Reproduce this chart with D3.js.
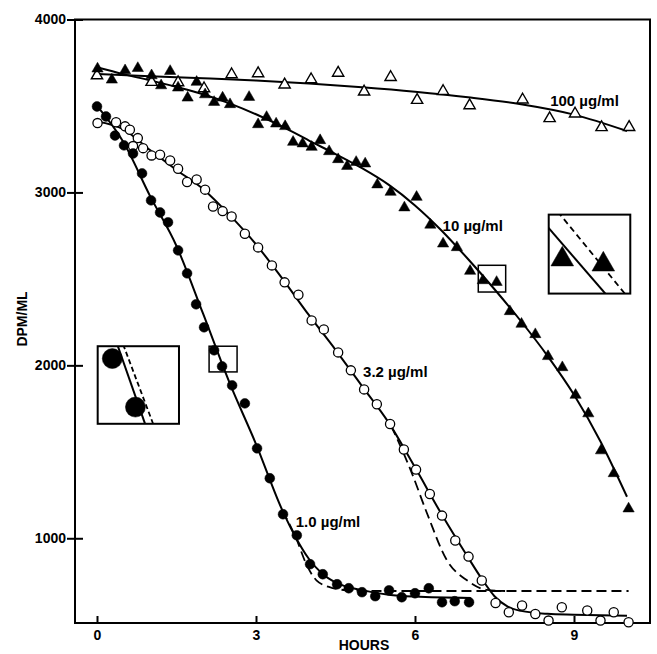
<!DOCTYPE html>
<html>
<head>
<meta charset="utf-8">
<script src="https://cdn.jsdelivr.net/npm/d3@7"></script>
<style>
  body { margin: 0; background: #fff; }
  text { font-family: "Liberation Sans", Arial, Helvetica, sans-serif; font-weight: bold; fill: #000; }
</style>
</head>
<body>
<svg width="657" height="654"></svg>
<script>
// measured points, [hours, DPM/ML]
const pts100 = [[0,3676],[1.03,3638],[1.53,3636],[2.02,3601],[2.54,3682],[3.04,3688],[3.54,3623],[4.04,3653],
  [4.55,3691],[5.04,3582],[5.54,3666],[6.04,3534],[6.53,3585],[7.03,3503],[8.03,3536],[8.54,3428],[9.02,3455],
  [9.52,3376],[10.04,3377]];

const pts10 = [[0.01,3715],[0.28,3651],[0.53,3705],[0.77,3718],[1.03,3676],[1.21,3618],[1.38,3701],[1.53,3605],
  [1.71,3547],[1.88,3638],[2.04,3566],[2.21,3522],[2.37,3547],[2.51,3509],[2.87,3551],[3.04,3393],[3.2,3435],
  [3.38,3397],[3.55,3382],[3.7,3291],[3.88,3282],[4.05,3262],[4.21,3301],[4.38,3237],[4.55,3191],[4.72,3152],
  [4.89,3175],[5.06,3166],[5.29,3045],[5.54,3002],[5.8,2912],[6.03,2973],[6.29,2812],[6.53,2703],[6.79,2682],
  [7.04,2545],[7.28,2491],[7.54,2481],[7.79,2312],[8.01,2239],[8.27,2179],[8.51,2052],[8.78,1988],[9.03,1828],
  [9.27,1721],[9.51,1507],[9.75,1375],[10.03,1171]];

const pts32 = [[0.01,3401],[0.36,3406],[0.53,3382],[0.62,3362],[0.77,3314],[0.68,3268],[0.87,3256],[1.03,3214],
  [1.19,3218],[1.38,3185],[1.53,3137],[1.7,3060],[1.88,3075],[2.04,3016],[2.19,2919],[2.37,2892],[2.54,2861],
  [2.79,2761],[3.04,2682],[3.3,2578],[3.54,2480],[3.8,2408],[4.05,2260],[4.28,2208],[4.55,2075],[4.79,1971],
  [5.04,1861],[5.28,1775],[5.53,1661],[5.79,1513],[6.02,1397],[6.28,1256],[6.51,1131],[6.76,987],[7.01,894],
  [7.26,756],[7.52,626],[7.77,572],[8.02,611],[8.27,562],[8.52,524],[8.77,601],[9.25,582],[9.5,524],[9.75,572],
  [10.03,514]];

const pts1 = [[0,3497],[0.17,3439],[0.34,3329],[0.51,3272],[0.68,3225],[0.85,3110],[1.02,2954],[1.19,2884],
  [1.34,2827],[1.53,2665],[1.7,2532],[1.87,2353],[2.02,2220],[2.21,2087],[2.36,1994],[2.55,1884],[2.79,1780],
  [3.02,1520],[3.26,1347],[3.51,1139],[3.77,1017],[4.02,850],[4.26,792],[4.53,734],[4.75,711],[5.0,688],
  [5.25,665],[5.51,699],[5.75,659],[6.0,682],[6.26,711],[6.51,630],[6.75,636],[7.02,630]];

// fitted curves (solid) and model curves (dashed)
const fit100 = [[0,3685],[1,3672],[2,3660],[3,3647],[4,3630],[5,3608],[6,3582],[7,3550],[8,3510],[9,3450],[10,3355]];
const fit10 = [[0,3724],[0.5,3684],[1,3648],[1.5,3610],[2,3568],[2.5,3515],[3,3452],[3.5,3380],[4,3300],
  [4.5,3222],[5,3140],[5.5,3045],[6,2925],[6.5,2780],[7,2615],[7.5,2440],[8,2255],[8.5,2055],[9,1830],
  [9.5,1560],[10,1240]];
const fit32 = [[0,3410],[0.5,3365],[1,3245],[1.5,3130],[2,3020],[2.5,2870],[3,2700],[3.5,2500],[4,2290],
  [4.5,2090],[5,1880],[5.5,1670],[6,1410],[6.5,1140],[7,890],[7.25,770],[7.5,665],[7.75,605],[8,580],
  [8.5,563],[9,558],[10,552]];
const fit1 = [[0,3500],[0.5,3290],[1,2980],[1.5,2690],[2,2300],[2.5,1900],[3,1545],[3.5,1160],[3.75,1005],
  [4,880],[4.25,795],[4.5,745],[5,700],[5.5,674],[6,663],[7.05,655]];
const dash32 = [[5.55,1650],[5.79,1488],[5.92,1393],[6.23,1142],[6.6,874],[6.98,757],[7.36,701],[7.7,695]];
const dash1 = [[3.5,1160],[3.77,990],[3.95,850],[4.14,757],[4.45,712],[4.8,698],[5.5,695],[10.03,695]];

// the short stretches shown magnified in the two insets
const insetSolid1 = [[2.14,2200],[2.52,1880]];
const insetDash1 = [[2.17,2200],[2.58,1880]];
const insetSolid2 = [[7.06,2600],[7.62,2400]];
const insetDash2 = [[7.21,2600],[7.74,2400]];

const xTicks = [0, 3, 6, 9];
const yTicks = [1000, 2000, 3000, 4000];
const curveLabels = ["100 µg/ml", "10 µg/ml", "3.2 µg/ml", "1.0 µg/ml"];
const labelAt = [[8.55,3532],[6.52,2810],[5.02,1962],[3.75,1095]];

// layout
const svg = d3.select("svg");
const x = d3.scaleLinear().domain([-0.415, 10.434]).range([75, 650]);
const y = d3.scaleLinear().domain([510, 4000]).range([623, 19.5]);

const line = d3.line()
  .x(d => x(d[0]))
  .y(d => y(d[1]))
  .curve(d3.curveMonotoneX);

// frame
svg.append("rect")
  .attr("x", x.range()[0]).attr("y", y.range()[1])
  .attr("width", x.range()[1] - x.range()[0])
  .attr("height", y.range()[0] - y.range()[1])
  .attr("fill", "none").attr("stroke", "#000").attr("stroke-width", 2);

// x axis, ticks pointing inward
const xAxis = svg.append("g")
  .attr("transform", `translate(0,${y.range()[0]})`)
  .call(d3.axisBottom(x).tickValues(xTicks).tickSize(-7).tickPadding(7));
xAxis.select(".domain").remove();
xAxis.selectAll("line").attr("stroke-width", 2);
xAxis.selectAll("text").style("font-size", "14px");

// y axis, ticks crossing the axis line
const yAxis = svg.append("g")
  .attr("transform", `translate(${x.range()[0]},0)`)
  .call(d3.axisLeft(y).tickValues(yTicks).tickFormat(d3.format("d")).tickSize(8).tickPadding(1));
yAxis.select(".domain").remove();
yAxis.selectAll("line").attr("x1", 8).attr("stroke-width", 2);
yAxis.selectAll("text").style("font-size", "14px");

svg.append("text")
  .attr("x", 364).attr("y", 650)
  .attr("text-anchor", "middle")
  .style("font-size", "14px")
  .text("HOURS");

svg.append("text")
  .attr("transform", "translate(27,319) rotate(-90)")
  .attr("text-anchor", "middle")
  .style("font-size", "14px")
  .text("DPM/ML");

// curves
const plot = svg.append("g");
[fit100, fit10, fit32, fit1].forEach(d => {
  plot.append("path").datum(d)
    .attr("fill", "none").attr("stroke", "#000").attr("stroke-width", 2)
    .attr("d", line);
});
[dash32, dash1].forEach(d => {
  plot.append("path").datum(d)
    .attr("fill", "none").attr("stroke", "#000").attr("stroke-width", 1.8)
    .attr("stroke-dasharray", "10,5")
    .attr("d", line);
});

// markers
const tri = s => d3.symbol(d3.symbolTriangle, s)();

function drawPoints(g, data, sx, sy, kind, big) {
  const k = big ? 1 : 0;
  if (kind === "circle" || kind === "ring") {
    g.selectAll(null).data(data).join("circle")
      .attr("cx", d => sx(d[0])).attr("cy", d => sy(d[1]))
      .attr("r", kind === "circle" ? (k ? 10 : 4.9) : 4.6)
      .attr("fill", kind === "circle" ? "#000" : "#fff")
      .attr("stroke", "#000").attr("stroke-width", kind === "circle" ? 0.5 : 1.3);
  } else {
    g.selectAll(null).data(data).join("path")
      .attr("transform", d => `translate(${sx(d[0])},${sy(d[1])})`)
      .attr("d", tri(kind === "tri" ? (k ? 223 : 55) : 55))
      .attr("fill", kind === "tri" ? "#000" : "#fff")
      .attr("stroke", "#000").attr("stroke-width", kind === "tri" ? 0.5 : 1.4);
  }
}

drawPoints(plot, pts100, x, y, "opentri");
drawPoints(plot, pts10, x, y, "tri");
drawPoints(plot, pts32, x, y, "ring");
drawPoints(plot, pts1, x, y, "circle");

// curve labels
svg.selectAll(".lbl").data(curveLabels).join("text")
  .attr("class", "lbl")
  .attr("x", (d, i) => x(labelAt[i][0]))
  .attr("y", (d, i) => y(labelAt[i][1]))
  .attr("dy", "0.36em")
  .style("font-size", "15px")
  .text(d => d);

// insets: small box on the curve, magnified copy beside it
const insets = [
  {src: [2.115, 2.643, 1962, 2110.6], dst: [0.013, 1.547, 1662, 2110.6],
   pts: pts1, kind: "circle", solid: insetSolid1, dash: insetDash1, dashArr: "5,3"},
  {src: [7.194, 7.711, 2424, 2578.6], dst: [8.523, 10.062, 2415, 2871.6],
   pts: pts10, kind: "tri", solid: insetSolid2, dash: insetDash2, dashArr: "6,4"}
];

insets.forEach((b, i) => {
  svg.append("rect")
    .attr("x", x(b.src[0])).attr("y", y(b.src[3]))
    .attr("width", x(b.src[1]) - x(b.src[0]))
    .attr("height", y(b.src[2]) - y(b.src[3]))
    .attr("fill", "none").attr("stroke", "#000").attr("stroke-width", 1.5);

  const ix = d3.scaleLinear().domain([b.src[0], b.src[1]]).range([x(b.dst[0]), x(b.dst[1])]);
  const iy = d3.scaleLinear().domain([b.src[2], b.src[3]]).range([y(b.dst[2]), y(b.dst[3])]);
  const bx = x(b.dst[0]), by = y(b.dst[3]), bw = x(b.dst[1]) - bx, bh = y(b.dst[2]) - by;

  svg.append("clipPath").attr("id", "clip" + i)
    .append("rect").attr("x", bx).attr("y", by).attr("width", bw).attr("height", bh);

  svg.append("rect")
    .attr("x", bx).attr("y", by).attr("width", bw).attr("height", bh)
    .attr("fill", "#fff");

  const g = svg.append("g").attr("clip-path", `url(#clip${i})`);
  const iline = d3.line().x(d => ix(d[0])).y(d => iy(d[1]));
  g.append("path").datum(b.solid)
    .attr("fill", "none").attr("stroke", "#000").attr("stroke-width", 2)
    .attr("d", iline);
  g.append("path").datum(b.dash)
    .attr("fill", "none").attr("stroke", "#000").attr("stroke-width", 1.8)
    .attr("stroke-dasharray", b.dashArr)
    .attr("d", iline);
  const inside = b.pts.filter(d => d[0] >= b.src[0] && d[0] <= b.src[1] && d[1] >= b.src[2] && d[1] <= b.src[3]);
  drawPoints(g, inside, ix, iy, b.kind, true);

  svg.append("rect")
    .attr("x", bx).attr("y", by).attr("width", bw).attr("height", bh)
    .attr("fill", "none").attr("stroke", "#000").attr("stroke-width", 2);
});
</script>
</body>
</html>
